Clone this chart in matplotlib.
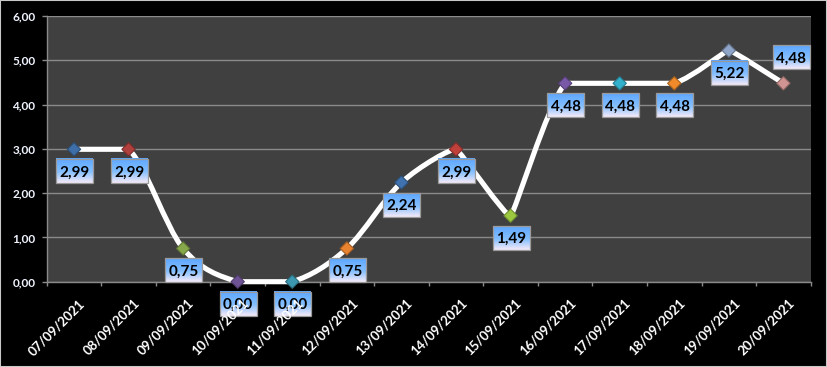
import numpy as np
import matplotlib
matplotlib.use('Agg')
import matplotlib.pyplot as plt
from matplotlib.path import Path
from matplotlib.patches import PathPatch, Rectangle
import matplotlib.transforms as mtransforms

plt.rcParams['font.family'] = ['Lato', 'DejaVu Sans']

# ---- data ----
dates = ['07/09/2021', '08/09/2021', '09/09/2021', '10/09/2021', '11/09/2021',
         '12/09/2021', '13/09/2021', '14/09/2021', '15/09/2021', '16/09/2021',
         '17/09/2021', '18/09/2021', '19/09/2021', '20/09/2021']
values = [2.99, 2.99, 0.75, 0.00, 0.00, 0.75, 2.24, 2.99, 1.49, 4.48,
          4.48, 4.48, 5.22, 4.48]
marker_colors = ['#3F6FA8', '#B0403D', '#86A84A', '#6E5394', '#3B98B0', '#E9832F',
                 '#3F72AE', '#C0403C', '#9CC840', '#7A58A8', '#33B0CC', '#F08A2A',
                 '#8FA6C8', '#D09592']
yticks = [0, 1, 2, 3, 4, 5, 6]
ytick_labels = ['0,00', '1,00', '2,00', '3,00', '4,00', '5,00', '6,00']
value_labels = [f'{v:.2f}'.replace('.', ',') for v in values]

# ---- figure ----
W, H, DPI = 827, 367, 100
fig = plt.figure(figsize=(W / DPI, H / DPI), dpi=DPI, facecolor='black')
L, R, T, B = 46.7, 810.7, 16.0, 281.7
ax = fig.add_axes([L / W, 1 - B / H, (R - L) / W, (B - T) / H])
ax.set_facecolor('#404040')
n = len(values)
ax.set_xlim(0, n)
ax.set_ylim(0, 6)
xs = np.arange(n) + 0.5

# grid
ax.set_xticks(np.arange(0, n + 1))
ax.set_xticks(np.arange(1, n), minor=True)
ax.set_xticklabels([])
ax.set_yticks(yticks)
ax.set_yticklabels(ytick_labels)
ax.grid(True, which='minor', axis='x', color='white', lw=1.0, zorder=0)
ax.grid(True, which='major', axis='y', color='#8a8a8a', lw=1.0, zorder=0)
ax.set_axisbelow(True)
ax.tick_params(axis='x', which='major', length=3.2, color='#8a8a8a', width=1)
ax.tick_params(axis='x', which='minor', length=0)
ax.tick_params(axis='y', length=3.6, color='#8a8a8a', width=1, pad=4.5,
               labelcolor='#F0F4FF', labelsize=8.5)
for lbl in ax.get_yticklabels():
    lbl.set_fontweight('bold')
for s in ['top', 'right']:
    ax.spines[s].set_visible(False)
for s in ['left', 'bottom']:
    ax.spines[s].set_color('#8a8a8a')
    ax.spines[s].set_linewidth(1)

# smoothed line (Bezier through the points; flat segments kept flat,
# tighter turns at local peaks/troughs)
pts = np.column_stack([xs, values])
tens = []
for i in range(n):
    if 0 < i < n - 1:
        a = values[i] - values[i - 1]
        b = values[i + 1] - values[i]
        tens.append(0.04 if a * b < 0 else 1 / 6)
    else:
        tens.append(1 / 6)
verts = [tuple(pts[0])]
codes = [Path.MOVETO]
for i in range(n - 1):
    p0 = pts[i - 1] if i > 0 else pts[i]
    p1, p2 = pts[i], pts[i + 1]
    p3 = pts[i + 2] if i + 2 < n else pts[i + 1]
    c1 = p1 + (p2 - p0) * tens[i]
    c2 = p2 - (p3 - p1) * tens[i + 1]
    if p1[1] == p2[1]:
        c1[1] = p1[1]
        c2[1] = p2[1]
    verts += [tuple(c1), tuple(c2), tuple(p2)]
    codes += [Path.CURVE4] * 3
ax.add_patch(PathPatch(Path(verts, codes), fc='none', ec='white', lw=3.7,
                       zorder=3, capstyle='round', joinstyle='round', clip_on=False))

# markers
edge = [tuple(np.array(matplotlib.colors.to_rgb(c)) * 0.7) for c in marker_colors]
ax.scatter(xs, values, marker='D', s=46, c=marker_colors, edgecolors=edge,
           linewidths=0.8, zorder=4, clip_on=False)

# data labels with gradient boxes
grad = np.linspace(0, 1, 64)
top = np.array([0.36, 0.65, 1.0])
mid = np.array([0.52, 0.75, 1.0])
bot = np.array([0.97, 0.92, 0.97])
img = np.zeros((64, 2, 3))
for k, g in enumerate(grad):
    if g < 0.55:
        c = top + (mid - top) * (g / 0.55)
    else:
        c = mid + (bot - mid) * ((g - 0.55) / 0.45)
    img[k, :, :] = c
bw, bh = 37, 24
inv = ax.transData.inverted()
for i in range(n):
    px, py = ax.transData.transform((xs[i], values[i]))
    if i == n - 1:
        dx, dy = 8, 26
    else:
        dx, dy = 0.5, -22
    cx, cy = px + dx, py + dy
    (x0, y0) = inv.transform((cx - bw / 2, cy - bh / 2))
    (x1, y1) = inv.transform((cx + bw / 2, cy + bh / 2))
    ax.imshow(img, extent=(x0, x1, y0, y1), aspect='auto', origin='upper',
              zorder=5, clip_on=False, interpolation='bilinear')
    ax.add_patch(Rectangle((x0, y0), x1 - x0, y1 - y0, fc='none', ec='#9a9a9a',
                           lw=0.9, zorder=5.5, clip_on=False))
    tx, ty = inv.transform((cx, cy))
    ax.text(tx, ty, value_labels[i], ha='center', va='center_baseline',
            fontsize=11, fontweight='bold', color='black', zorder=6)
ax.set_xlim(0, n)
ax.set_ylim(0, 6)

# category labels on overlay axes (drawn above data labels)
ax2 = fig.add_axes(ax.get_position(), frameon=False, zorder=ax.get_zorder() + 1)
ax2.patch.set_visible(False)
ax2.set_xlim(0, n)
ax2.set_ylim(0, 6)
ax2.set_yticks([])
ax2.set_xticks(xs)
ax2.set_xticklabels(dates, rotation=45, ha='right', va='top', rotation_mode='anchor',
                    fontsize=9.5, fontweight='bold', color='white')
ax2.tick_params(axis='x', length=0, pad=11)
off = mtransforms.ScaledTranslation(4.4 / DPI, 0, fig.dpi_scale_trans)
for lbl in ax2.get_xticklabels():
    lbl.set_transform(lbl.get_transform() + off)

# outer border
fig.add_artist(Rectangle((0, 0), 1, 1, transform=fig.transFigure, fill=False,
                         ec='#c8c8c8', lw=1.5))

fig.savefig('out.png', dpi=DPI, facecolor='black')
